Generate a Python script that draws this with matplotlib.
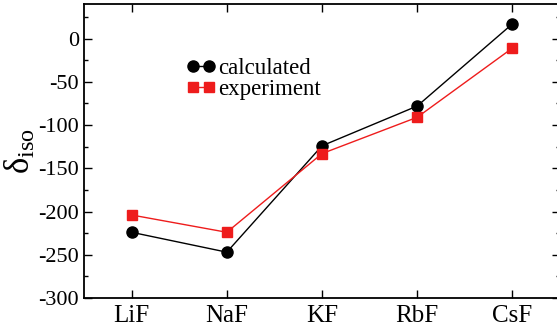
import matplotlib.pyplot as plt
from matplotlib.ticker import MultipleLocator

plt.rcParams['font.family'] = ['Liberation Serif', 'DejaVu Serif']
plt.rcParams['mathtext.fontset'] = 'custom'
plt.rcParams['mathtext.rm'] = 'Liberation Serif'
plt.rcParams['mathtext.it'] = 'Liberation Serif'
plt.rcParams['axes.unicode_minus'] = False

salts = ['LiF', 'NaF', 'KF', 'RbF', 'CsF']
calculated = [-224, -247, -124, -78, 17]
experiment = [-204, -224, -133, -91, -11]

fig = plt.figure(figsize=(5.57, 3.28), dpi=100)
ax = fig.add_axes([84 / 557, 1 - 298 / 328, (560 - 84) / 557, (298 - 4) / 328])

x = range(len(salts))
ax.plot(x, calculated, 'o-', color='black', lw=1, markersize=8, label='calculated')
ax.plot(x, experiment, 's-', color='#ee1c1c', lw=1, markersize=7, label='experiment')

ax.set_xlim(-0.5, 4.5)
ax.set_ylim(-300, 40)
ax.set_xticks(list(x))
ax.set_xticklabels(salts, fontsize=18)
ax.yaxis.set_major_locator(MultipleLocator(50))
ax.yaxis.set_minor_locator(MultipleLocator(25))
ax.tick_params(direction='in', which='both', top=True, right=True, width=1)
ax.tick_params(axis='y', labelsize=16)
ax.tick_params(which='major', length=6)
ax.tick_params(which='minor', length=3)
ax.tick_params(axis='x', pad=5)
for s in ax.spines.values():
    s.set_linewidth(1.3)

ax.set_ylabel(r'$\mathrm{\delta}_{\mathrm{iso}}$', fontsize=25, labelpad=0)
ax.legend(loc='upper left', bbox_to_anchor=(0.19, 0.855), frameon=False, fontsize=16.5,
          numpoints=2, handlelength=1.3, handletextpad=0.1, labelspacing=0.0, borderpad=0)

fig.savefig('out.png', dpi=100)
